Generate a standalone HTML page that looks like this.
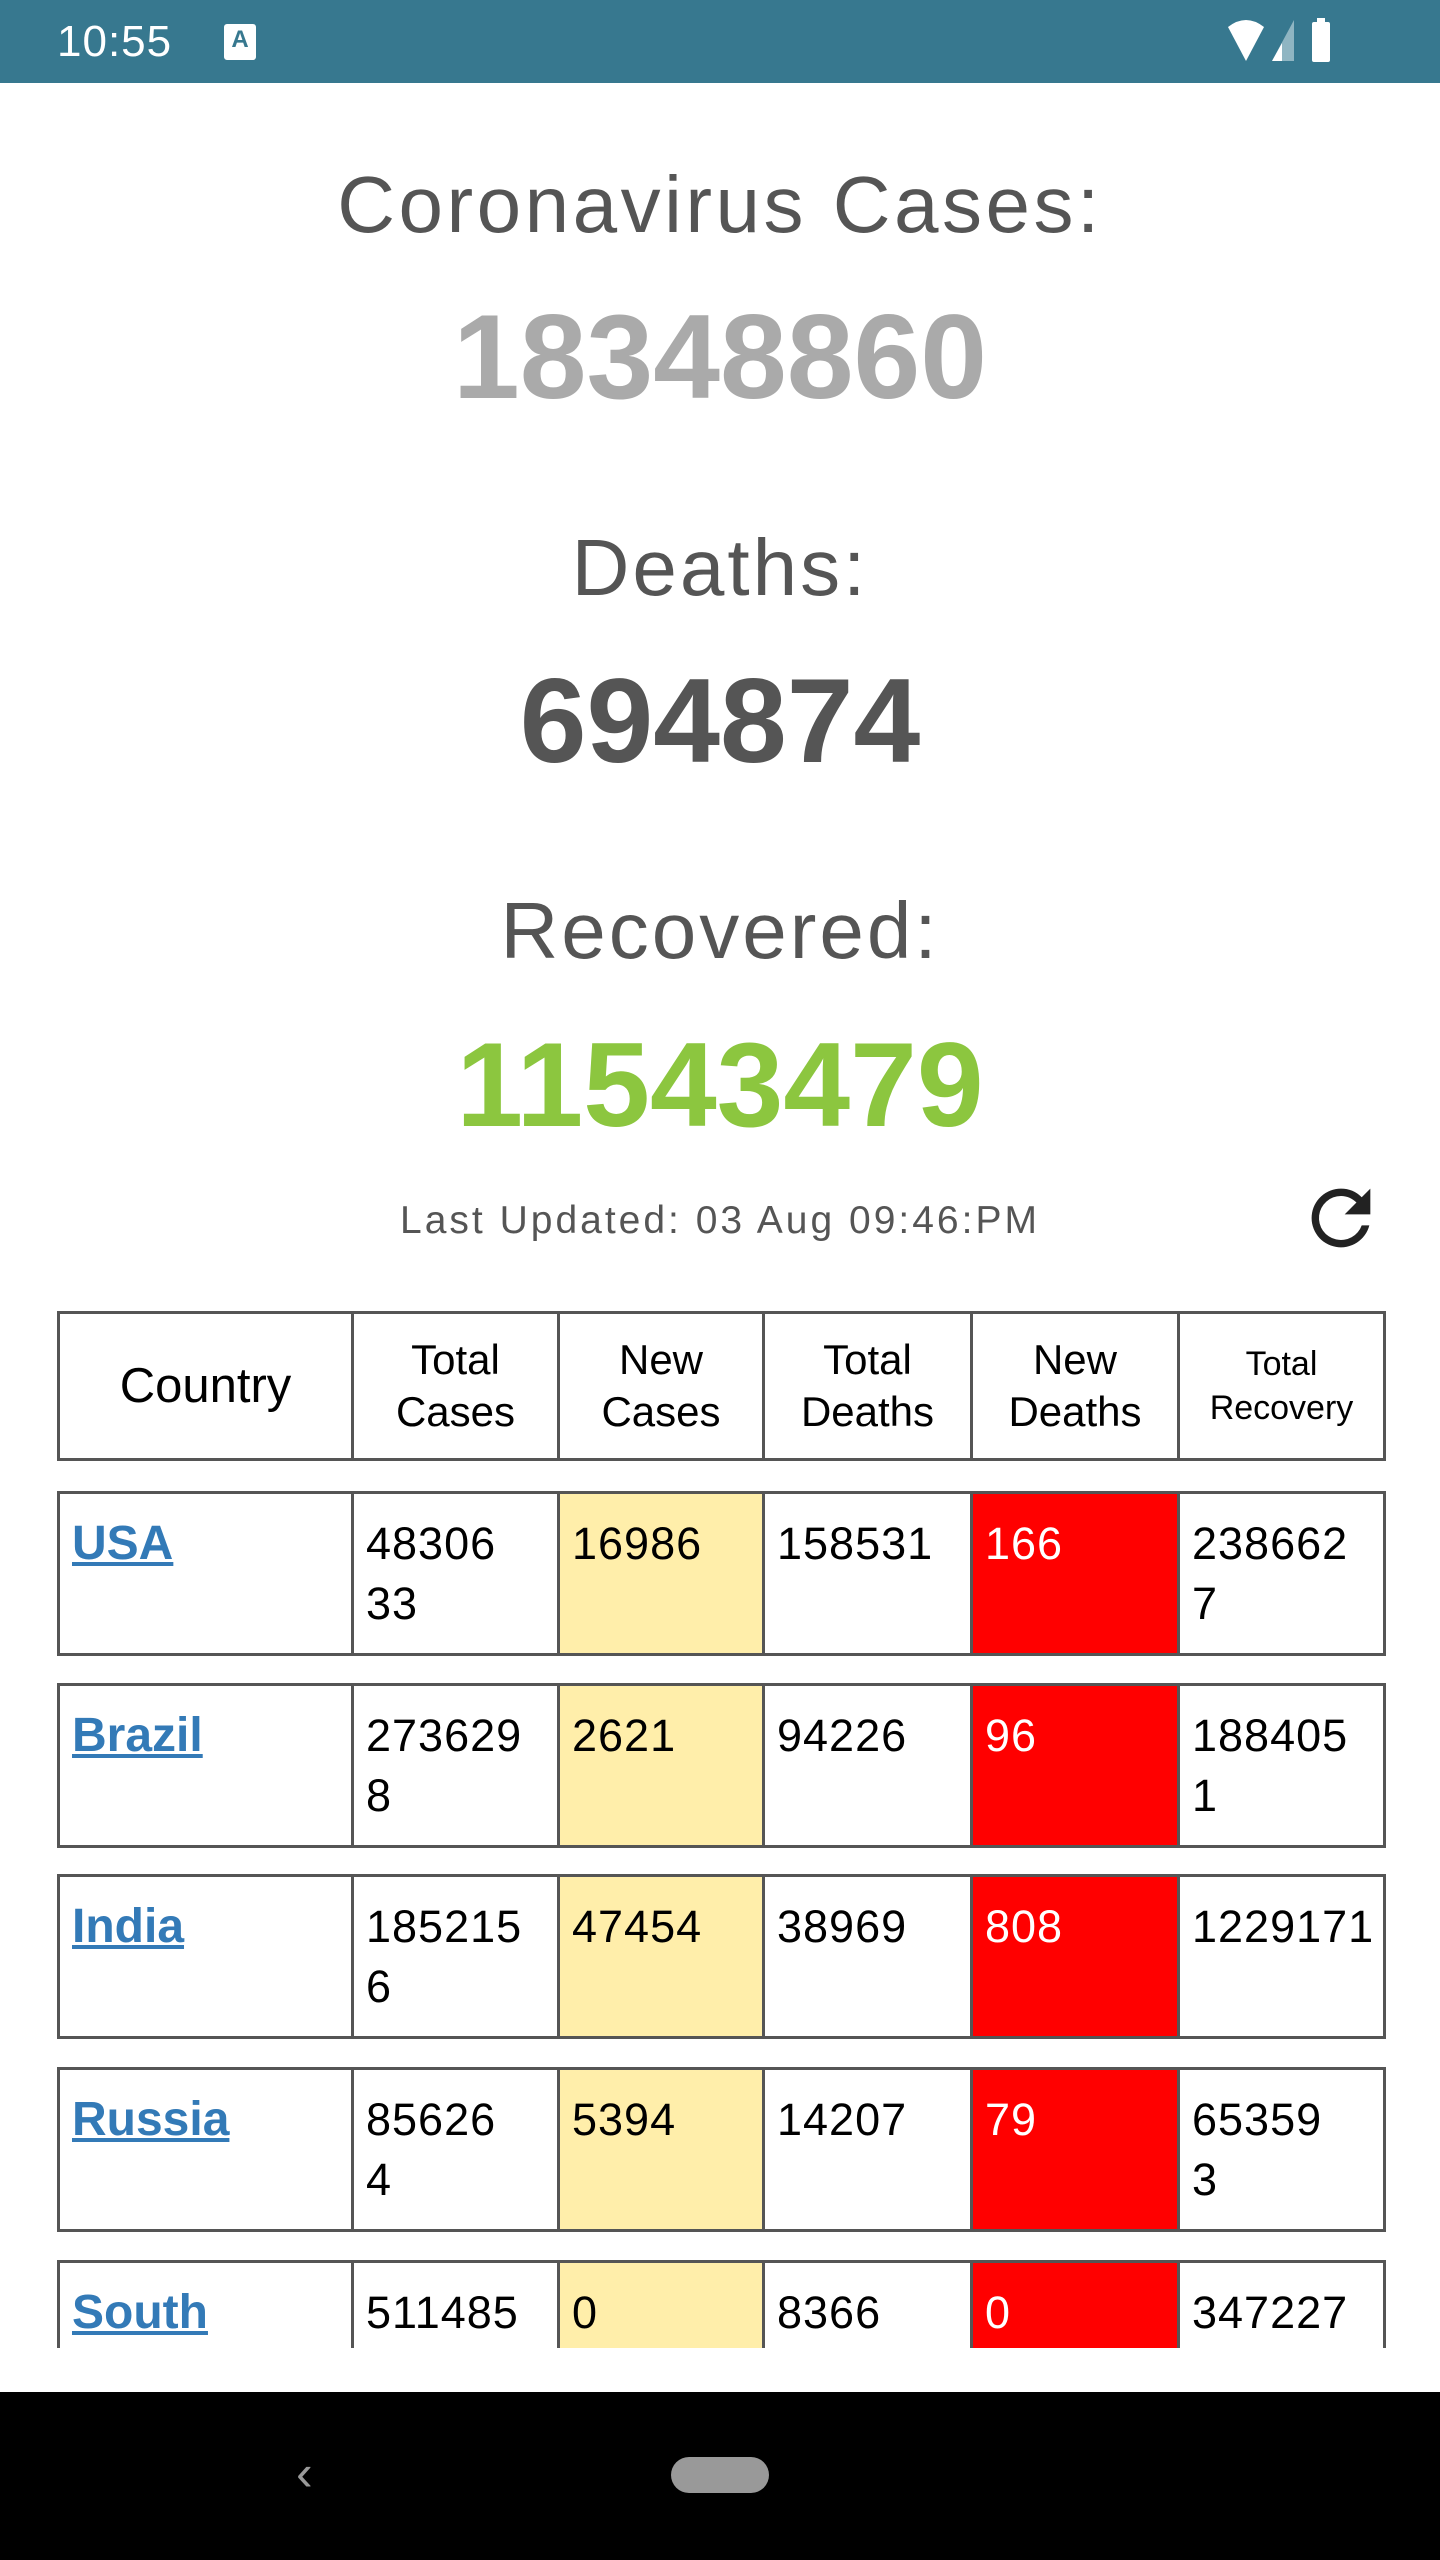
<!DOCTYPE html>
<html><head><meta charset="utf-8"><style>
*{margin:0;padding:0;box-sizing:border-box}
body{width:1440px;height:2560px;background:#fff;font-family:"Liberation Sans",sans-serif;position:relative;overflow:hidden}
.abs{position:absolute}
.center{position:absolute;left:0;width:1440px;text-align:center;line-height:1}
.ttl{letter-spacing:3px}
.cell{position:absolute;border:3px solid #555;color:#000}
.hd{display:flex;align-items:center;justify-content:center;text-align:center;font-size:42px;line-height:52px}
.td{font-size:45px;line-height:60px;padding:20px 0 0 12px;letter-spacing:1px}
</style></head><body>
<div class="abs" style="left:0;top:0;width:1440px;height:83px;background:#37788f"></div>
<div class="abs" style="left:57px;top:18px;color:#fff;font-size:44px;line-height:48px;letter-spacing:1px">10:55</div>
<div class="abs" style="left:224px;top:24px;width:32px;height:36px;background:#fff;border-radius:3px;color:#37788f;font-size:24px;font-weight:bold;text-align:center;line-height:32px">A</div>
<svg class="abs" style="left:1220px;top:15px" width="200" height="55" viewBox="0 0 200 55">
<path d="M8 12 Q26 -2 44 12 L26 46 Z" fill="#fff"/>
<path d="M52 46 L74 5 L74 46 Z" fill="#8fb5c2"/><path d="M52 46 L62 28 L62 46 Z" fill="#fff"/>
<rect x="92" y="7" width="18" height="40" rx="2" fill="#fff"/><rect x="97" y="3" width="8" height="5" fill="#fff"/>
</svg>
<div class="center ttl" style="top:165px;font-size:80px;color:#555;letter-spacing:3.5px">Coronavirus Cases:</div>
<div class="center" style="top:297px;font-size:120px;font-weight:bold;color:#aaa">18348860</div>
<div class="center ttl" style="top:528px;font-size:80px;color:#555">Deaths:</div>
<div class="center" style="top:661px;font-size:120px;font-weight:bold;color:#555">694874</div>
<div class="center ttl" style="top:891px;font-size:80px;color:#555">Recovered:</div>
<div class="center" style="top:1025px;font-size:120px;font-weight:bold;color:#8cc63f">11543479</div>
<div class="center" style="top:1201px;font-size:39px;color:#555;letter-spacing:3px">Last Updated: 03 Aug 09:46:PM</div>
<svg class="abs" style="left:1297px;top:1174px" width="88" height="88" viewBox="0 0 24 24"><path d="M17.65 6.35A7.95 7.95 0 0 0 12 4a8 8 0 1 0 7.73 10h-2.08A6 6 0 1 1 12 6c1.66 0 3.14.69 4.22 1.78L13 11h7V4l-2.35 2.35z" fill="#222"/></svg>
<div class="abs" id="tbl" style="left:0;top:0;width:1440px;height:2348px;overflow:hidden"></div>
<div class="abs" style="left:0;top:2392px;width:1440px;height:168px;background:#000"></div>
<div class="abs" style="left:296px;top:2448px;color:#999;font-size:50px;line-height:50px">‹</div>
<div class="abs" style="left:671px;top:2457px;width:98px;height:36px;border-radius:18px;background:#999"></div>
<script>
const colX=[57,351,557,762,970,1177,1383];
const headers=["Country","Total<br>Cases","New<br>Cases","Total<br>Deaths","New<br>Deaths","Total<br>Recovery"];
const countries=["USA","Brazil","India","Russia","South"];
const totalCases=["48306<br>33","273629<br>8","185215<br>6","85626<br>4","511485"];
const newCases=["16986","2621","47454","5394","0"];
const totalDeaths=["158531","94226","38969","14207","8366"];
const newDeaths=["166","96","808","79","0"];
const totalRec=["238662<br>7","188405<br>1","1229171","65359<br>3","347227"];
const rowTop=[1491,1683,1874,2067,2260];
const tbl=document.getElementById('tbl');
function mk(x0,x1,y,h,cls){const d=document.createElement('div');d.className='cell '+cls;d.style.left=x0+'px';d.style.top=y+'px';d.style.width=(x1-x0+3)+'px';d.style.height=h+'px';tbl.appendChild(d);return d;}
headers.forEach((t,i)=>{const d=mk(colX[i],colX[i+1],1311,150,'hd');d.innerHTML=t;
if(i==0)d.style.fontSize='49px';if(i==5){d.style.fontSize='34px';d.style.lineHeight='44px';}

});
countries.forEach((c,r)=>{
const vals=[c,totalCases[r],newCases[r],totalDeaths[r],newDeaths[r],totalRec[r]];
vals.forEach((v,i)=>{const d=mk(colX[i],colX[i+1],rowTop[r],165,'td');
if(i==0){d.innerHTML='<span style="color:#337ab7;font-weight:bold;text-decoration:underline;font-size:48px;letter-spacing:0">'+v+'</span>';

}
else{d.innerHTML=v;

}
if(i==2)d.style.background='#ffeeaa';
if(i==4){d.style.background='#ff0000';d.style.color='#fff';}
});});
</script>
</body></html>
